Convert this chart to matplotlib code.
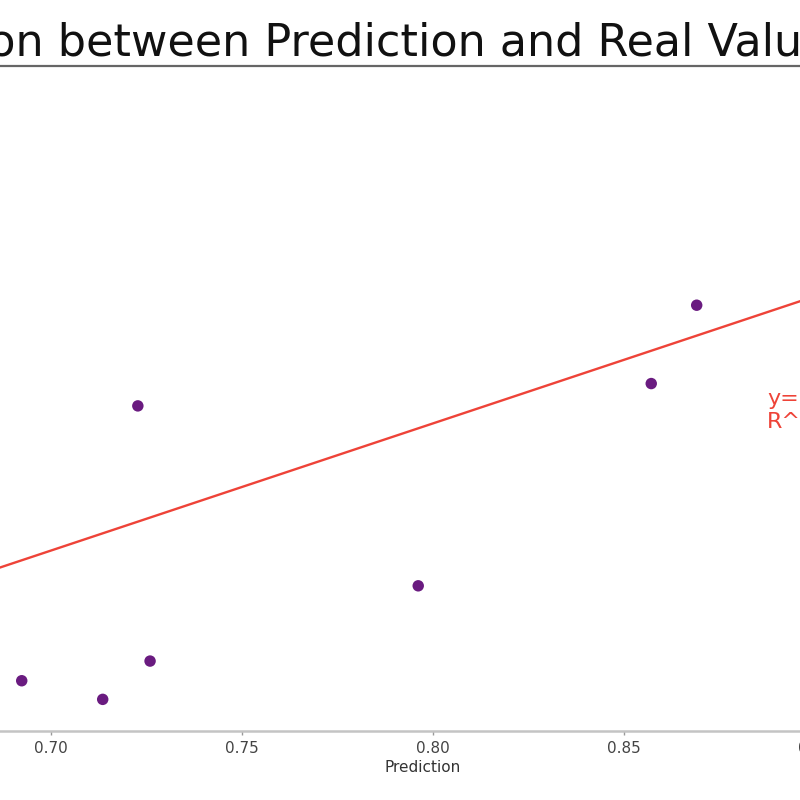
import numpy as np
import matplotlib
matplotlib.use("Agg")
import matplotlib.pyplot as plt

# ── DATA ─────────────────────────────────────────────────────────────────────
prediction = [0.6924, 0.7136, 0.7228, 0.7260, 0.7962, 0.8572, 0.8691]
real_value = [0.5840, 0.5714, 0.7699, 0.5973, 0.6482, 0.7850, 0.8380]

fit_slope = 0.86
fit_intercept = 0.07
fit_r2 = 0.41

x_ticks = [0.70, 0.75, 0.80, 0.85, 0.90]
x_limits = (0.6642, 0.9307)
y_limits = (0.55, 1.00)

TITLE = "Correlation between Prediction and Real Value"

# ── FIGURE ───────────────────────────────────────────────────────────────────
# the reference is a crop of a wider chart, so the axes run off the canvas
fig = plt.figure(figsize=(8, 8), dpi=100)
W = H = 800.0
ax_left_px, ax_right_px = -86.0, 932.0
ax_top_px, ax_bottom_px = 65.7, 731.0
ax = fig.add_axes([ax_left_px / W, 1 - ax_bottom_px / H,
                   (ax_right_px - ax_left_px) / W,
                   (ax_bottom_px - ax_top_px) / H])

ax.scatter(prediction, real_value, s=68, color="#6a1b80", zorder=3,
           edgecolors="none")

xs = np.array(x_limits)
ax.plot(xs, fit_slope * xs + fit_intercept, color="#ee4338", linewidth=1.7,
        zorder=2)

ax.set_xlim(*x_limits)
ax.set_ylim(*y_limits)
ax.set_xticks(x_ticks)
ax.set_xticklabels([f"{t:.2f}" for t in x_ticks])
ax.tick_params(axis="x", length=3, width=1, color="#999999",
               labelsize=11, labelcolor="#444444", pad=4)
ax.set_xlabel("Prediction", fontsize=11, color="#333333", labelpad=3)

ax.spines["top"].set_color("#666666")
ax.spines["top"].set_linewidth(1.6)
ax.spines["bottom"].set_color("#c4c4c4")
ax.spines["bottom"].set_linewidth(1.8)

# equation + R^2 label (baseline of the last line)
fig.text(767 / W, 1 - 428 / H,
         f"y={fit_slope:.2f}x+{fit_intercept:.2f}\nR^2={fit_r2:.2f}",
         fontsize=16, color="#ee4338", va="baseline", ha="left")

# ── TITLE (cropped on both sides in the reference) ───────────────────────────
title = fig.text(0, 1 - 55 / H, TITLE, fontsize=32, color="#111111",
                 va="baseline", ha="left")
renderer = fig.canvas.get_renderer()
prefix = fig.text(0, 0, "Correlati", fontsize=32)
prefix_w = prefix.get_window_extent(renderer).width
prefix.remove()
title.set_x((-prefix_w - 12) / W)

fig.savefig("out.png", dpi=100)
